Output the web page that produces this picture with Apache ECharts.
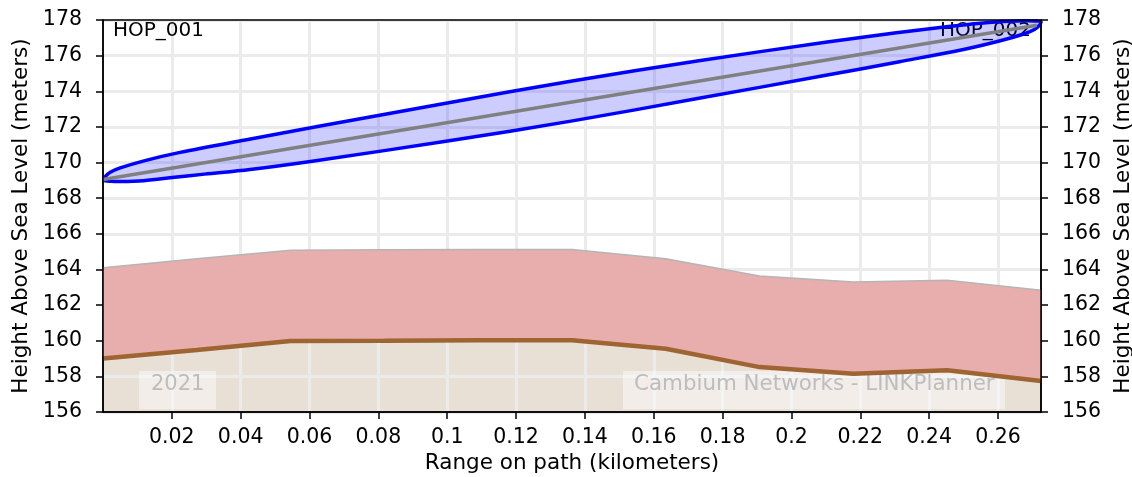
<!DOCTYPE html>
<html>
<head>
<meta charset="utf-8">
<script src="https://cdn.jsdelivr.net/npm/echarts@6/dist/echarts.min.js"></script>
<style>
    html, body { margin: 0; padding: 0; background: #fff; }
    #chart { width: 1132px; height: 477px; }
</style>
</head>
<body>
<div id="chart"></div>
<script>
    // path samples (km) and heights (m)
    var distKm = [0, 0.02725, 0.0545, 0.08175, 0.109, 0.13625, 0.1635, 0.19075, 0.218, 0.24525, 0.2725];
    var terrainM = [159.0, 159.48, 159.98, 160.0, 160.03, 160.03, 159.55, 158.52, 158.15, 158.34, 157.74];
    var clutterTopM = [164.1, 164.6, 165.08, 165.1, 165.12, 165.12, 164.6, 163.63, 163.3, 163.4, 162.83];

    // fresnel zone outline: upper edge left->right, lower edge right->left
    var fresnelUpper = [
        [0.0002, 169.02], [0.0009, 169.26], [0.0021, 169.46], [0.005, 169.7], [0.0122, 170.11],
        [0.0224, 170.57], [0.0413, 171.27], [0.0631, 172.05], [0.1, 173.34], [0.1363, 174.58],
        [0.1726, 175.7], [0.2104, 176.76], [0.2299, 177.27], [0.2432, 177.58], [0.2519, 177.76],
        [0.2609, 177.91], [0.2677, 177.96], [0.2706, 177.95], [0.2725, 177.9]
    ];
    var fresnelLower = [
        [0.2718, 177.66], [0.2706, 177.47], [0.2677, 177.23], [0.2604, 176.82], [0.2503, 176.36],
        [0.2314, 175.66], [0.2096, 174.88], [0.1727, 173.59], [0.1364, 172.34], [0.1001, 171.21],
        [0.0623, 170.12], [0.0427, 169.61], [0.0295, 169.35], [0.0208, 169.17], [0.0118, 168.98],
        [0.0049, 168.93], [0.002, 168.95], [0.0007, 168.98]
    ];
    var losLine = [[0, 169.05], [0.2713, 177.7]];

    var xTicks = [0.02, 0.04, 0.06, 0.08, 0.1, 0.12, 0.14, 0.16, 0.18, 0.2, 0.22, 0.24, 0.26];
    var yMin = 156, yMax = 178, yStep = 2;

    var FONT = 'DejaVu Sans';

    var chart = echarts.init(document.getElementById('chart'));

    function yAxisCfg(pos, grid) {
        return {
            type: 'value',
            position: pos,
            min: yMin,
            max: yMax,
            interval: yStep,
            name: 'Height Above Sea Level (meters)',
            nameLocation: 'middle',
            nameGap: 66,
            nameTextStyle: { fontFamily: FONT, fontSize: 21.5, color: '#000' },
            axisLine: { show: true, lineStyle: { color: '#000', width: 1.5 } },
            axisTick: { show: true, length: 7, lineStyle: { color: '#000', width: 1.5 } },
            axisLabel: { fontFamily: FONT, fontSize: 20.5, color: '#000', margin: 21 },
            splitLine: { show: grid, lineStyle: { color: '#ebebeb', width: 3 } }
        };
    }

    var groundData = distKm.map(function (d, i) { return [d, terrainM[i]]; });

    chart.setOption({
        animation: false,
        grid: {
            left: 103, right: 91, top: 20, bottom: 65,
            containLabel: false,
            outerBoundsMode: 'none',
            show: true,
            backgroundColor: 'transparent',
            borderColor: '#000',
            borderWidth: 1.5,
            z: 10
        },
        xAxis: {
            type: 'value',
            min: 0,
            max: 0.2725,
            interval: 0.02,
            name: 'Range on path (kilometers)',
            nameLocation: 'middle',
            nameGap: 40,
            nameTextStyle: { fontFamily: FONT, fontSize: 21.5, color: '#000' },
            axisLine: { show: true, onZero: false, lineStyle: { color: '#000', width: 1.5 } },
            axisTick: { show: true, length: 7, customValues: xTicks, lineStyle: { color: '#000', width: 1.5 } },
            axisLabel: { fontFamily: FONT, fontSize: 20.5, color: '#000', margin: 15, customValues: xTicks },
            splitLine: { show: true, lineStyle: { color: '#ebebeb', width: 3 } }
        },
        yAxis: [yAxisCfg('left', true), yAxisCfg('right', false)],
        graphic: [
            { type: 'text', left: 113, top: 21, z: 1, style: { text: 'HOP_001', font: '20px "DejaVu Sans"', fill: '#000' } },
            { type: 'text', right: 101, top: 21, z: 1, style: { text: 'HOP_002', font: '20px "DejaVu Sans"', fill: '#000' } },
            { type: 'rect', left: 139, top: 371, z: 1, shape: { width: 77, height: 38 }, style: { fill: 'rgba(255,255,255,0.45)' } },
            { type: 'text', left: 151, top: 374, z: 1, style: { text: '2021', font: '21px "DejaVu Sans"', fill: '#bdbdbd' } },
            { type: 'rect', left: 623, top: 371, z: 1, shape: { width: 382, height: 38 }, style: { fill: 'rgba(255,255,255,0.45)' } },
            { type: 'text', left: 634, top: 374, z: 1, style: { text: 'Cambium Networks - LINKPlanner', font: '21.4px "DejaVu Sans"', fill: '#bdbdbd' } }
        ],
        series: [
            {
                name: 'ground',
                type: 'line',
                data: groundData,
                symbol: 'none',
                lineStyle: { width: 0 },
                areaStyle: { color: '#e8dfd5', opacity: 1 },
                z: -1
            },
            {
                // clutter band between terrain and clutter top
                name: 'clutter',
                type: 'custom',
                coordinateSystem: 'cartesian2d',
                data: [[0, 160]],
                renderItem: function (params, api) {
                    var top = distKm.map(function (d, i) { return api.coord([d, clutterTopM[i]]); });
                    var bottom = distKm.map(function (d, i) { return api.coord([d, terrainM[i]]); }).reverse();
                    return {
                        type: 'group',
                        children: [
                            { type: 'polygon', shape: { points: top.concat(bottom) }, style: { fill: '#e8adad', stroke: null } },
                            { type: 'polyline', shape: { points: top }, style: { fill: null, stroke: '#b5b5b5', lineWidth: 1.5 } }
                        ]
                    };
                },
                z: 2
            },
            {
                name: 'terrain',
                type: 'line',
                data: groundData,
                symbol: 'none',
                lineStyle: { color: '#9e6431', width: 4.5 },
                z: 3
            },
            {
                name: 'fresnel',
                type: 'custom',
                coordinateSystem: 'cartesian2d',
                clip: false,
                data: [[0, 169]],
                renderItem: function (params, api) {
                    var pts = fresnelUpper.concat(fresnelLower).map(function (p) { return api.coord(p); });
                    return {
                        type: 'polygon',
                        shape: { points: pts, smooth: 0.35 },
                        style: { fill: 'rgba(0,0,255,0.2)', stroke: '#0000ff', lineWidth: 3.5, lineJoin: 'round' }
                    };
                },
                z: 4
            },
            {
                name: 'los',
                type: 'line',
                data: losLine,
                symbol: 'none',
                lineStyle: { color: '#808080', width: 3.5 },
                z: 5
            }
        ]
    });
</script>
</body>
</html>
